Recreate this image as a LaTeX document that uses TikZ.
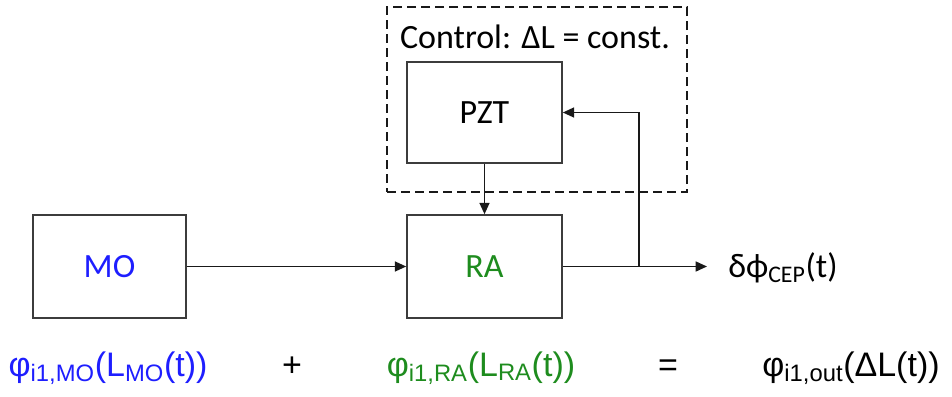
\documentclass[tikz,border=0pt]{standalone}
\usepackage{fontspec}
\setmainfont{Carlito}
\newfontfamily\arialf{Liberation Sans}
\usetikzlibrary{arrows.meta}
\definecolor{moblue}{RGB}{30,30,255}
\definecolor{ragreen}{RGB}{30,140,30}
\definecolor{boxgray}{RGB}{60,60,60}
\begin{document}
\begin{tikzpicture}[x=0.75pt,y=-0.75pt,
  blockbox/.style={draw=boxgray,line width=1.2pt,minimum height=77.25pt,inner sep=0pt,font=\fontsize{25.5}{29}\selectfont},
  conn/.style={line width=1.1pt,draw=black!90,-{Triangle[length=8.5pt,width=7.5pt]}},
  ctrlbox/.style={draw=black!90,line width=1.8pt,dash pattern=on 6.75pt off 3.75pt,inner sep=0pt},
  eqtext/.style={font=\arialf\fontsize{25.5}{29}\selectfont,anchor=base,inner sep=0pt},
  lbltext/.style={font=\fontsize{25.5}{29}\selectfont,inner sep=0pt}]
\useasboundingbox (0,0) rectangle (952,396);
% dashed control region
\node[ctrlbox,minimum width=225pt,minimum height=138.75pt] (ctrl) at (537,99.5) {};
\node[lbltext] (ctrltxt) at (535,37) {Control: ΔL = const.};
% blocks
\node[blockbox,minimum width=114.75pt,text=moblue] (mo) at (109.5,266.5) {MO};
\node[blockbox,minimum width=116.25pt,text=ragreen] (ra) at (484.5,266.5) {RA};
\node[blockbox,minimum width=116.25pt,minimum height=75.75pt] (pzt) at (484.5,112.5) {PZT};
% connectors
\coordinate (out) at (707,266.5);
\coordinate (br) at (639,266.5);
\draw[conn] (mo.east) -- (ra.west);
\draw[conn] (ra.east) -- (out);
\draw[conn] (br) |- (pzt.east);
\draw[conn] (pzt.south) -- (ra.north);
\node[lbltext,anchor=west] (cep) at (728,268) {δϕ\textsubscript{CEP}(t)};
% equation
\node[eqtext,text=moblue] (eqmo) at (108,376) {φ\textsubscript{i1,MO}(L\textsubscript{MO}(t))};
\node[eqtext] (plus) at (292,376) {+};
\node[eqtext,text=ragreen] (eqra) at (481,376) {φ\textsubscript{i1,RA}(L\textsubscript{RA}(t))};
\node[eqtext] (eq) at (668,376) {=};
\node[eqtext] (eqout) at (851,376) {φ\textsubscript{i1,out}(ΔL(t))};
\end{tikzpicture}
\end{document}
